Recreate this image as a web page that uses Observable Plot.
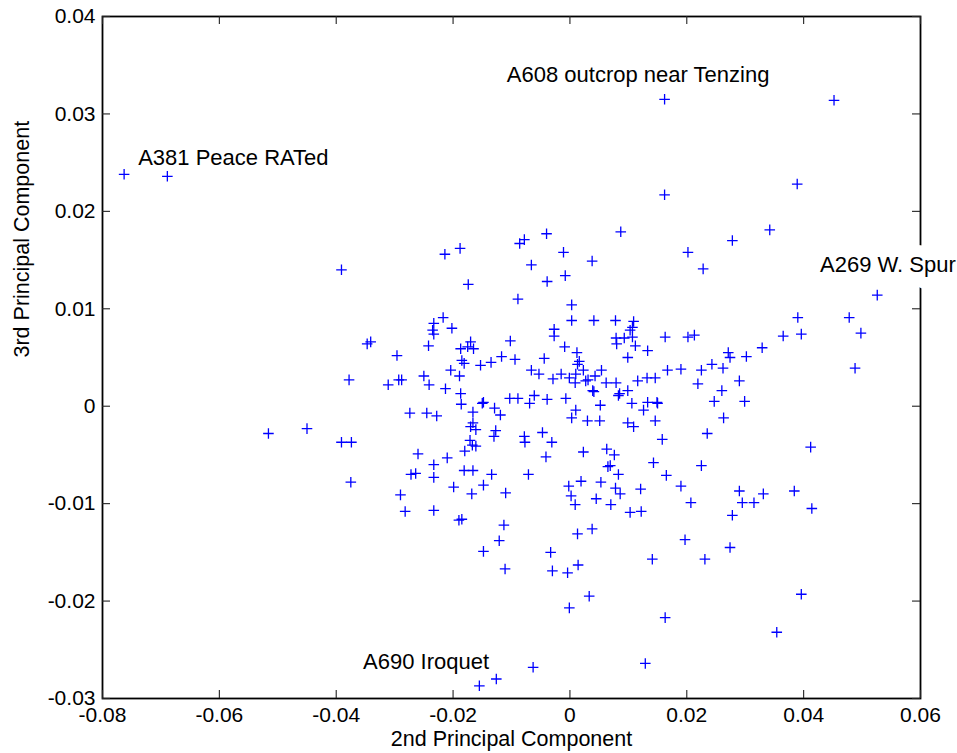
<!DOCTYPE html>
<html>
<head>
<meta charset="utf-8">
<script src="https://cdn.jsdelivr.net/npm/d3@7"></script>
<script src="https://cdn.jsdelivr.net/npm/@observablehq/plot@0.6"></script>
<style>
  html, body { margin: 0; padding: 0; background: #fff; }
  #chart svg { display: block; }
</style>
</head>
<body>
<div id="chart"></div>
<script>
// 2nd principal component (x) of each sample
const pc2 = [
  -0.0763, -0.0689, 0.0162, 0.0452, 0.0162, 0.0389, 0.0342, 0.0278, 0.0087, -0.0040,
  -0.0078, -0.0086, -0.0214, -0.0188, -0.0391, -0.0174, -0.0217, -0.0233, -0.0202, -0.0235,
  -0.0233, -0.0341, -0.0347, -0.0242, -0.0170, -0.0187, -0.0175, -0.0165, -0.0102, -0.0296,
  -0.0185, -0.0181, -0.0153, -0.0135, -0.0117, -0.0378, -0.0311, -0.0293, -0.0288, -0.0250,
  -0.0241, -0.0204, -0.0189, -0.0213, -0.0187, -0.0186, -0.0150, -0.0148, -0.0129, -0.0119,
  -0.0103, -0.0274, -0.0245, -0.0228, -0.0166, -0.0166, -0.0170, -0.0161, -0.0127, -0.0130,
  -0.0450, -0.0391, -0.0374, -0.0171, -0.0167, -0.0161, -0.0260, -0.0210, -0.0180, -0.0233,
  -0.0516,
  -0.0011, 0.0038, 0.0202, 0.0228, -0.0066, -0.0008, -0.0039, -0.0089, 0.0003,
  0.0003, 0.0041, 0.0078, 0.0109, 0.0107, 0.0103, -0.0027, -0.0027, 0.0079, 0.0093,
  0.0107, 0.0080, 0.0112, 0.0133, 0.0163, 0.0202, 0.0213, -0.0009, 0.0012, 0.0016,
  0.0013, -0.0094, -0.0044, 0.0099, -0.0066, -0.0053, -0.0015, -0.0029, -0.0001, 0.0010,
  0.0023, 0.0031, 0.0009, 0.0027, 0.0043, 0.0054, 0.0062, 0.0079, 0.0116, 0.0132,
  0.0146, 0.0167, 0.0190, 0.0225, 0.0219, 0.0243, 0.0039, 0.0041, 0.0085, 0.0099,
  0.0083, -0.0089, -0.0061, -0.0069, -0.0039, -0.0007, 0.0052, 0.0106, 0.0126, 0.0133,
  0.0149, 0.0150, 0.0010, 0.0003, 0.0030, 0.0051, 0.0099, 0.0109, 0.0146, 0.0235,
  -0.0078, -0.0077, -0.0047, -0.0031, 0.0158, -0.0041, 0.0023, 0.0063, 0.0076, 0.0143,
  0.0225, 0.0065, 0.0069, 0.0526, 0.0390, 0.0478, 0.0498, 0.0365, 0.0396, 0.0329,
  0.0271, 0.0274, 0.0302, 0.0262, 0.0488, 0.0290, 0.0260, 0.0247, 0.0299, 0.0263,
  0.0412, -0.0375, -0.0272, -0.0264, -0.0233, -0.0181, -0.0166, -0.0134, -0.0199, -0.0168,
  -0.0148, -0.0110, -0.0290, -0.0282, -0.0233, -0.0190, -0.0185, -0.0113, -0.0121, -0.0148,
  -0.0111, -0.0155, -0.0126, -0.0071, -0.0002, 0.0019, 0.0053, 0.0083, 0.0078, 0.0086,
  0.0121, 0.0165, 0.0190, 0.0002, 0.0009, 0.0045, 0.0070, 0.0103, 0.0122, 0.0207,
  0.0013, 0.0038, 0.0197, -0.0033, 0.0141, 0.0231, -0.0030, -0.0004, 0.0014, 0.0033,
  -0.0001, 0.0163, -0.0063, 0.0129, 0.0290, 0.0331, 0.0384, 0.0295, 0.0315, 0.0278,
  0.0414, 0.0274, 0.0396, 0.0354
];

// 3rd principal component (y) of each sample
const pc3 = [
  0.0238, 0.0236, 0.0315, 0.0314, 0.0217, 0.0228, 0.0181, 0.0170, 0.0179, 0.0177,
  0.0171, 0.0167, 0.0156, 0.0162, 0.0140, 0.0125, 0.0091, 0.0085, 0.0080, 0.0078,
  0.0074, 0.0066, 0.0064, 0.0062, 0.0066, 0.0059, 0.0061, 0.0059, 0.0067, 0.0052,
  0.0047, 0.0044, 0.0042, 0.0045, 0.0051, 0.0027, 0.0022, 0.0027, 0.0027, 0.0031,
  0.0022, 0.0037, 0.0031, 0.0018, 0.0013, 0.0002, 0.0003, 0.0004, -0.0002, -0.0009,
  0.0008, -0.0007, -0.0007, -0.0010, -0.0006, -0.0017, -0.0021, -0.0024, -0.0025, -0.0031,
  -0.0023, -0.0037, -0.0037, -0.0035, -0.0040, -0.0041, -0.0049, -0.0053, -0.0046, -0.0060,
  -0.0028,
  0.0158, 0.0149, 0.0158, 0.0141, 0.0145, 0.0134, 0.0128, 0.0110, 0.0104,
  0.0088, 0.0088, 0.0088, 0.0087, 0.0081, 0.0078, 0.0079, 0.0072, 0.0070, 0.0070,
  0.0071, 0.0064, 0.0062, 0.0057, 0.0071, 0.0071, 0.0073, 0.0061, 0.0055, 0.0046,
  0.0043, 0.0048, 0.0049, 0.0050, 0.0037, 0.0033, 0.0033, 0.0028, 0.0029, 0.0033,
  0.0037, 0.0027, 0.0024, 0.0026, 0.0031, 0.0037, 0.0024, 0.0024, 0.0026, 0.0029,
  0.0029, 0.0037, 0.0038, 0.0037, 0.0023, 0.0043, 0.0016, 0.0015, 0.0013, 0.0016,
  0.0011, 0.0008, 0.0011, 0.0003, 0.0007, 0.0008, 0.0001, 0.0003, -0.0004, 0.0004,
  0.0004, 0.0003, -0.0004, -0.0012, -0.0015, -0.0015, -0.0017, -0.0021, -0.0015, -0.0028,
  -0.0031, -0.0037, -0.0027, -0.0037, -0.0034, -0.0052, -0.0047, -0.0044, -0.0050, -0.0058,
  -0.0061, -0.0062, -0.0061, 0.0114, 0.0091, 0.0091, 0.0075, 0.0072, 0.0074, 0.0060,
  0.0055, 0.0050, 0.0051, 0.0039, 0.0039, 0.0026, 0.0016, 0.0005, 0.0005, -0.0012,
  -0.0042, -0.0078, -0.0070, -0.0069, -0.0073, -0.0066, -0.0066, -0.0070, -0.0083, -0.0090,
  -0.0081, -0.0089, -0.0091, -0.0108, -0.0107, -0.0117, -0.0116, -0.0122, -0.0138, -0.0149,
  -0.0167, -0.0287, -0.0280, -0.0070, -0.0082, -0.0077, -0.0078, -0.0070, -0.0084, -0.0090,
  -0.0085, -0.0071, -0.0082, -0.0092, -0.0101, -0.0095, -0.0101, -0.0109, -0.0108, -0.0099,
  -0.0131, -0.0126, -0.0137, -0.0150, -0.0157, -0.0157, -0.0169, -0.0171, -0.0163, -0.0195,
  -0.0207, -0.0217, -0.0268, -0.0264, -0.0087, -0.0090, -0.0087, -0.0099, -0.0099, -0.0112,
  -0.0105, -0.0145, -0.0193, -0.0232
];

// annotations
const labelText = ["A381 Peace RATed", "A608 outcrop near Tenzing", "A269 W. Spur", "A690 Iroquet"];
const labelX = [-0.0739, -0.0108, 0.0428, -0.0354];
const labelY = [0.0255, 0.0340, 0.0145, -0.0262];

// axes
const xTicks = [-0.08, -0.06, -0.04, -0.02, 0, 0.02, 0.04, 0.06];
const xTickLabels = ["-0.08", "-0.06", "-0.04", "-0.02", "0", "0.02", "0.04", "0.06"];
const yTicks = [-0.03, -0.02, -0.01, 0, 0.01, 0.02, 0.03, 0.04];
const yTickLabels = ["-0.03", "-0.02", "-0.01", "0", "0.01", "0.02", "0.03", "0.04"];
const xLabel = "2nd Principal Component";
const yLabel = "3rd Principal Component";

const n = Math.min(pc2.length, pc3.length);
const points = Array.from({length: n}, (_, i) => ({x: pc2[i], y: pc3[i]}));

const W = 957, H = 753;
const mL = 102, mR = 37, mT = 16, mB = 55;
const innerW = W - mL - mR, innerH = H - mT - mB;
const tickLen = 8;
const font = "'Liberation Sans', Arial, Helvetica, sans-serif";

const chart = Plot.plot({
  width: W,
  height: H,
  marginLeft: mL,
  marginRight: mR,
  marginTop: mT,
  marginBottom: mB,
  x: {domain: [-0.08, 0.06]},
  y: {domain: [-0.03, 0.04]},
  style: {fontFamily: font, fontSize: "21px", background: "#fff", color: "#000", overflow: "visible"},
  marks: [
    Plot.frame({stroke: "#000", strokeWidth: 1.8}),
    // inward ticks on all four sides
    Plot.tickX(xTicks, {x: d => d, insetTop: innerH - tickLen, stroke: "#222", strokeWidth: 1.1}),
    Plot.tickX(xTicks, {x: d => d, insetBottom: innerH - tickLen, stroke: "#222", strokeWidth: 1.1}),
    Plot.tickY(yTicks, {y: d => d, insetRight: innerW - tickLen, stroke: "#222", strokeWidth: 1.1}),
    Plot.tickY(yTicks, {y: d => d, insetLeft: innerW - tickLen, stroke: "#222", strokeWidth: 1.1}),
    Plot.axisX(xTicks, {anchor: "bottom", tickSize: 0, tickPadding: 9, label: null,
      tickFormat: d => xTickLabels[xTicks.indexOf(d)], fontSize: 21}),
    Plot.axisY(yTicks, {anchor: "left", tickSize: 0, tickPadding: 7, label: null,
      tickFormat: d => yTickLabels[yTicks.indexOf(d)], fontSize: 21}),
    Plot.text([xLabel], {frameAnchor: "bottom", dy: 47, text: d => d, fontSize: 21.5}),
    Plot.text([yLabel], {frameAnchor: "left", dx: -80, rotate: -90, text: d => d, fontSize: 21.5}),
    // annotations with white box behind them (covers the frame for A269)
    Plot.text(labelText, {
      x: (d, i) => labelX[i], y: (d, i) => labelY[i], text: d => d,
      textAnchor: "start", fontSize: 22, fill: "#000",
      stroke: "#fff", strokeWidth: 24, paintOrder: "stroke"
    }),
    Plot.dot(points, {x: "x", y: "y", symbol: "plus", r: 3.5, stroke: "#0000ff", strokeWidth: 1.3})
  ]
});

document.getElementById("chart").appendChild(chart);
</script>
</body>
</html>
